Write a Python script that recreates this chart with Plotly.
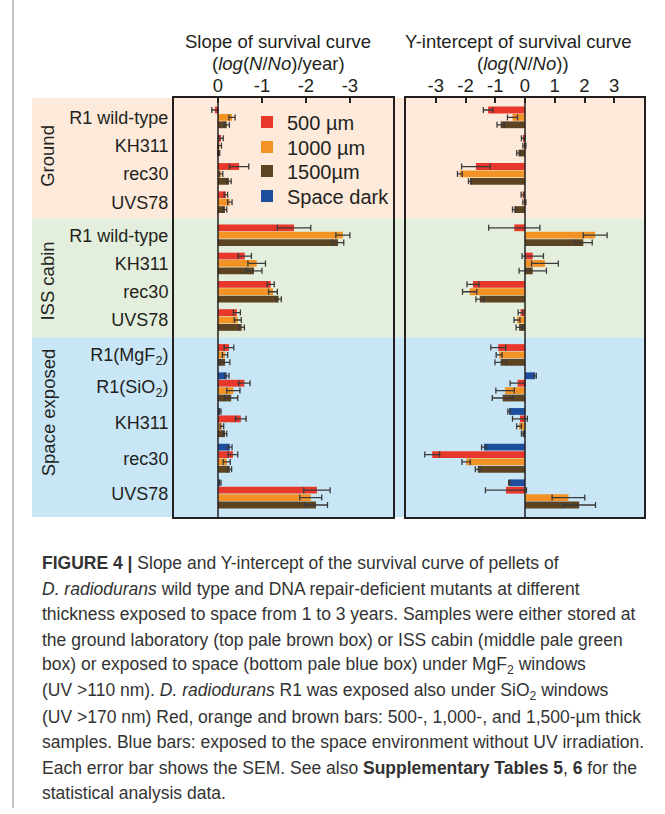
import plotly.graph_objects as go

W, H = 665, 814

# ---- data ----
sections = ["Ground", "ISS cabin", "Space exposed"]
strains = [
    ["R1 wild-type", "KH311", "rec30", "UVS78"],
    ["R1 wild-type", "KH311", "rec30", "UVS78"],
    ["R1(MgF<sub>2</sub>)", "R1(SiO<sub>2</sub>)", "KH311", "rec30", "UVS78"],
]
series_names = ["500 µm", "1000 µm", "1500µm", "Space dark"]

# slope of survival curve, log(N/No)/year  (13 rows, top to bottom)
slope_500 = [0.07, -0.07, -0.48, -0.18, -1.73, -0.61, -1.20, -0.43, -0.25, -0.60, -0.52, -0.34, -2.25]
slope_500_err = [0.07, 0.05, 0.22, 0.04, 0.38, 0.15, 0.08, 0.08, 0.11, 0.13, 0.12, 0.11, 0.30]
slope_1000 = [-0.32, -0.04, -0.07, -0.27, -2.84, -0.88, -1.25, -0.45, -0.16, -0.35, -0.09, -0.20, -2.11]
slope_1000_err = [0.07, 0.04, 0.04, 0.05, 0.16, 0.20, 0.10, 0.08, 0.06, 0.15, 0.04, 0.08, 0.25]
slope_1500 = [-0.20, -0.02, -0.25, -0.16, -2.73, -0.82, -1.38, -0.54, -0.16, -0.30, -0.16, -0.27, -2.23]
slope_1500_err = [0.06, 0.02, 0.05, 0.04, 0.13, 0.18, 0.06, 0.06, 0.11, 0.15, 0.04, 0.04, 0.26]
slope_dark = [None, None, None, None, None, None, None, None, None, -0.20, -0.05, -0.27, -0.05]
slope_dark_err = [None, None, None, None, None, None, None, None, None, 0.05, 0.02, 0.05, 0.02]

# Y-intercept of survival curve, log(N/No)
int_500 = [-1.24, -0.06, -1.65, -0.08, -0.36, 0.26, -1.75, -0.15, -0.90, -0.25, -0.17, -3.12, -0.64]
int_500_err = [0.16, 0.06, 0.48, 0.05, 0.86, 0.36, 0.20, 0.08, 0.25, 0.25, 0.25, 0.25, 0.69]
int_1000 = [-0.42, -0.02, -2.19, -0.02, 2.36, 0.67, -1.86, -0.27, -0.87, -0.67, -0.20, -1.98, 1.46]
int_1000_err = [0.17, 0.05, 0.08, 0.05, 0.40, 0.45, 0.24, 0.10, 0.10, 0.31, 0.08, 0.14, 0.55]
int_1500 = [-0.82, -0.22, -1.85, -0.36, 1.96, 0.26, -1.52, -0.20, -0.82, -0.75, -0.08, -1.59, 1.82]
int_1500_err = [0.12, 0.06, 0.05, 0.06, 0.30, 0.46, 0.13, 0.10, 0.19, 0.35, 0.04, 0.08, 0.55]
int_dark = [None, None, None, None, None, None, None, None, None, 0.34, -0.54, -1.38, -0.53]
int_dark_err = [None, None, None, None, None, None, None, None, None, 0.04, 0.04, 0.08, 0.02]

caption_lines = [
    "<b>FIGURE 4 | </b>Slope and Y-intercept of the survival curve of pellets of",
    "<i>D. radiodurans</i> wild type and DNA repair-deficient mutants at different",
    "thickness exposed to space from 1 to 3 years. Samples were either stored at",
    "the ground laboratory (top pale brown box) or ISS cabin (middle pale green",
    "box) or exposed to space (bottom pale blue box) under MgF<sub>2</sub> windows",
    "(UV >110 nm). <i>D. radiodurans</i> R1 was exposed also under SiO<sub>2</sub> windows",
    "(UV >170 nm) Red, orange and brown bars: 500-, 1,000-, and 1,500-µm thick",
    "samples. Blue bars: exposed to the space environment without UV irradiation.",
    "Each error bar shows the SEM. See also <b>Supplementary Tables 5</b>, <b>6</b> for the",
    "statistical analysis data.",
]

colors = {"500": "#e8382b", "1000": "#f39325", "1500": "#5c4321", "dark": "#1d4e9c"}
ink = "#231f20"

slope = {"500": (slope_500, slope_500_err), "1000": (slope_1000, slope_1000_err),
         "1500": (slope_1500, slope_1500_err), "dark": (slope_dark, slope_dark_err)}
icept = {"500": (int_500, int_500_err), "1000": (int_1000, int_1000_err),
         "1500": (int_1500, int_1500_err), "dark": (int_dark, int_dark_err)}
names = {"500": series_names[0], "1000": series_names[1], "1500": series_names[2], "dark": series_names[3]}

# ---- row layout: one slot per bar, small gap between strains, bigger between sections ----
GROUP_GAP = 0.82
SECTION_GAP = [0.64, 0.9]
order = ["dark", "500", "1000", "1500"]
ypos = {k: [None] * 13 for k in order}
centers, labels, edges, sec_mid = [], [], [], []
cur, last, r = 0.0, None, 0
for si, names_in in enumerate(strains):
    if si > 0:
        cur += SECTION_GAP[si - 1]
        edges.append((last + cur) / 2)
    sec_first = cur
    for lab in names_in:
        first = cur
        for k in order:
            if slope[k][0][r] is not None:
                ypos[k][r] = cur
                last = cur
                cur += 1
        centers.append((first + last) / 2)
        labels.append(lab)
        cur += GROUP_GAP
        r += 1
    sec_mid.append((sec_first + last) / 2)
PAD = 1.62
ytop, ybot = -PAD, last + PAD
bands = [ytop] + edges + [ybot]

legend_ids = {"500": "legend", "1000": "legend2", "1500": "legend3", "dark": "legend4"}

fig = go.Figure()
for k in ["500", "1000", "1500", "dark"]:
    for panel, data, xa, ya in [(1, slope, "x", "y"), (2, icept, "x2", "y2")]:
        vals, errs = data[k]
        xs = [v for v in vals if v is not None]
        es = [e for v, e in zip(vals, errs) if v is not None]
        ys = [y for v, y in zip(vals, ypos[k]) if v is not None]
        fig.add_trace(go.Bar(
            x=xs, y=ys, orientation="h", width=0.92,
            marker=dict(color=colors[k], line=dict(width=0)),
            error_x=dict(type="data", array=es, color="#3a3a3a", thickness=1.3, width=3),
            xaxis=xa, yaxis=ya, name=names[k], legendgroup=k,
            legend=legend_ids[k], showlegend=(panel == 1),
        ))

band_colors = ["#fdeadb", "#e3efdc", "#c8e6f6"]
shapes = []
for i in range(3):
    shapes.append(dict(type="rect", xref="paper", yref="y", x0=32 / W, x1=644 / W,
                       y0=bands[i], y1=bands[i + 1], fillcolor=band_colors[i],
                       line=dict(width=0), layer="below"))
for xa in ["x", "x2"]:
    shapes.append(dict(type="line", xref=xa, yref="y domain", x0=0, x1=0, y0=0, y1=1,
                       line=dict(color=ink, width=1.5), layer="above"))
shapes.append(dict(type="line", xref="paper", yref="paper", x0=13 / W, x1=13 / W,
                   y0=1 - 808 / H, y1=1, line=dict(color="#9a9a9a", width=1.2)))

ann = []
def txt(x, y, s, size=18, **kw):
    d = dict(x=x / W, y=1 - y / H, xref="paper", yref="paper", text=s, showarrow=False,
             font=dict(size=size, color=ink), xanchor="center", yanchor="middle")
    d.update(kw)
    ann.append(d)

txt(278, 41, "Slope of survival curve", 18.5)
txt(278, 63, "(<i>log</i>(<i>N</i>/<i>No</i>)/year)", 18.5)
txt(518, 41, "Y-intercept of survival curve", 18.5)
txt(523, 63, "(<i>log</i>(<i>N</i>/<i>No</i>))", 18.5)
sec_shift = [4, -4, 14]
for i, s in enumerate(sections):
    ann.append(dict(x=48 / W, y=sec_mid[i], xref="paper", yref="y", text=s, textangle=-90,
                    showarrow=False, font=dict(size=18.5, color=ink), yshift=sec_shift[i],
                    xanchor="center", yanchor="middle"))

for i, line in enumerate(caption_lines):
    txt(40, 563 + 25.6 * i, line, 17.5, xanchor="left",
        font=dict(family="Liberation Sans, Arial", size=17.5, color="#333333"))

xcommon = dict(side="top", ticks="inside", ticklen=5, tickwidth=1.5, tickcolor=ink,
               showline=True, mirror=True, linecolor=ink, linewidth=2, showgrid=False,
               zeroline=False, ticklabelstandoff=-3, tickfont=dict(size=18.5, color=ink))
ycommon = dict(range=[ybot, ytop], domain=[1 - 517 / H, 1 - 98 / H], showline=True,
               mirror=True, linecolor=ink, linewidth=2, showgrid=False, zeroline=False)

leg_y = [122, 147, 171, 196]
legends = {}
for i, k in enumerate(["500", "1000", "1500", "dark"]):
    legends[legend_ids[k]] = dict(x=247 / W, y=1 - leg_y[i] / H, xanchor="left", yanchor="middle",
                                  bgcolor="rgba(0,0,0,0)", font=dict(size=20, color=ink))

fig.update_layout(
    width=W, height=H, margin=dict(l=0, r=0, t=0, b=0, pad=0),
    paper_bgcolor="white", plot_bgcolor="rgba(0,0,0,0)",
    barmode="overlay",
    font=dict(family="Liberation Sans, Arial, sans-serif", color=ink, size=18),
    xaxis=dict(domain=[174 / W, 393 / W], range=[1.0, -3.98], anchor="y",
               tickvals=[0, -1, -2, -3], ticktext=["0", "-1", "-2", "-3"], **xcommon),
    xaxis2=dict(domain=[406 / W, 644 / W], range=[-4.0, 4.0], anchor="y2",
                tickvals=[-3, -2, -1, 0, 1, 2, 3],
                ticktext=["-3", "-2", "-1", "0", "1", "2", "3"], **xcommon),
    yaxis=dict(anchor="x", tickvals=centers, ticktext=labels, ticks="",
               tickfont=dict(size=18, color=ink), **ycommon),
    yaxis2=dict(anchor="x2", matches="y", showticklabels=False, ticks="", **ycommon),
    shapes=shapes, annotations=ann,
    **legends,
)

fig.write_html("out.html", config={"displayModeBar": False},
               post_script="document.body.style.margin='0px';")
